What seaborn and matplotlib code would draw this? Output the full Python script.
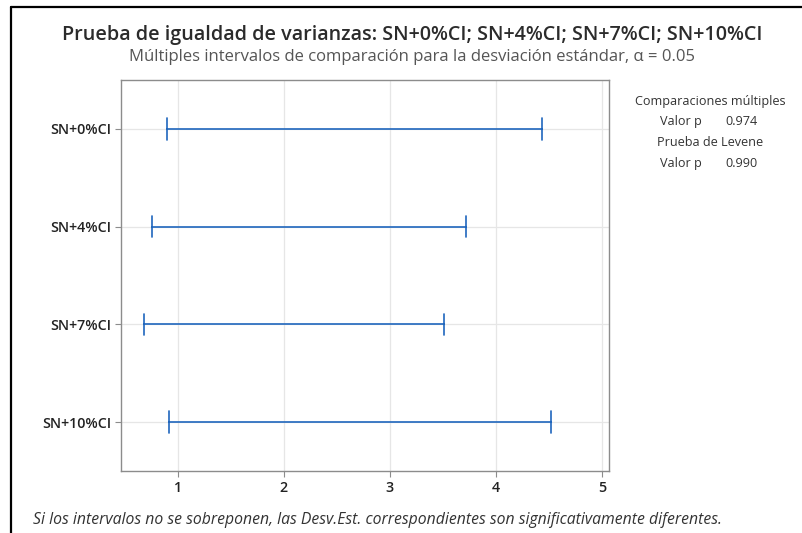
import matplotlib
matplotlib.use("Agg")
import matplotlib.pyplot as plt
from matplotlib.lines import Line2D
import seaborn as sns
import pandas as pd

groups = ["SN+0%CI", "SN+4%CI", "SN+7%CI", "SN+10%CI"]
lower = [0.90, 0.76, 0.68, 0.92]
upper = [4.43, 3.72, 3.51, 4.52]
xticks = [1, 2, 3, 4, 5]
title = "Prueba de igualdad de varianzas: SN+0%CI; SN+4%CI; SN+7%CI; SN+10%CI"
subtitle = "Múltiples intervalos de comparación para la desviación estándar, α = 0.05"
side_lines = ["Comparaciones múltiples", ("Valor p", "0.974"), "Prueba de Levene", ("Valor p", "0.990")]
footnote = "Si los intervalos no se sobreponen, las Desv.Est. correspondientes son significativamente diferentes."

sns.set_theme(style="whitegrid")
plt.rcParams['font.family'] = ['Open Sans', 'DejaVu Sans']

rows = []
for g, lo, hi in zip(groups, lower, upper):
    rows.append({"grupo": g, "valor": lo})
    rows.append({"grupo": g, "valor": hi})
df = pd.DataFrame(rows)

fig = plt.figure(figsize=(8.02, 5.33), dpi=100)
ax = fig.add_axes([0.1505, 0.1163, 0.609, 0.7336])
blue = "#1f66bd"
sns.pointplot(data=df, x="valor", y="grupo", order=groups, orient="h",
              errorbar=("pi", 100), estimator="mean", capsize=0.22,
              linestyle="none", marker="", color=blue,
              err_kws={"linewidth": 1.2}, ax=ax)

ax.set_xlim(0.464, 5.066)
ax.set_ylim(3.5, -0.5)
ax.set_xticks(xticks)
ax.set_xticklabels([str(t) for t in xticks])
ax.set_xlabel("")
ax.set_ylabel("")
ax.grid(True, color="#e6e6e6", linewidth=0.9)
for s in ax.spines.values():
    s.set_color("#8c8c8c")
    s.set_linewidth(1.0)
ax.tick_params(axis="both", which="major", length=4, width=0.8, color="#8c8c8c",
               labelsize=10.3, labelcolor="#222222", pad=3)
ax.tick_params(axis="x", bottom=True, direction="out")
ax.tick_params(axis="y", left=True, direction="out")
for lbl in ax.get_xticklabels() + ax.get_yticklabels():
    lbl.set_fontweight("semibold")

fig.text(412 / 802, 1 - 35 / 533, title, ha="center", va="center",
         fontsize=14.2, color="#2b2b2b", fontweight="semibold")
fig.text(412 / 802, 1 - 57 / 533, subtitle, ha="center", va="center",
         fontsize=12, color="#555555")

ys = [105, 125, 146, 167]
for item, y in zip(side_lines, ys):
    if isinstance(item, tuple):
        fig.text(681 / 802, 1 - y / 533, item[0], ha="center", va="baseline", fontsize=9.1, color="#333333")
        fig.text(742 / 802, 1 - y / 533, item[1], ha="center", va="baseline", fontsize=9.1, color="#333333")
    else:
        fig.text(710 / 802, 1 - y / 533, item, ha="center", va="baseline", fontsize=9.1, color="#333333")

fig.text(33 / 802, 1 - 520 / 533, footnote, ha="left", va="center", fontsize=11.3,
         style="italic", color="#333333")

fig.add_artist(Line2D([11 / 802, 1], [1 - 7 / 533, 1 - 7 / 533], transform=fig.transFigure,
                      color="black", linewidth=1.6))
fig.add_artist(Line2D([11 / 802, 11 / 802], [1 - 7 / 533, 0], transform=fig.transFigure,
                      color="black", linewidth=1.6))

fig.savefig("out.png", dpi=100, facecolor="white")
